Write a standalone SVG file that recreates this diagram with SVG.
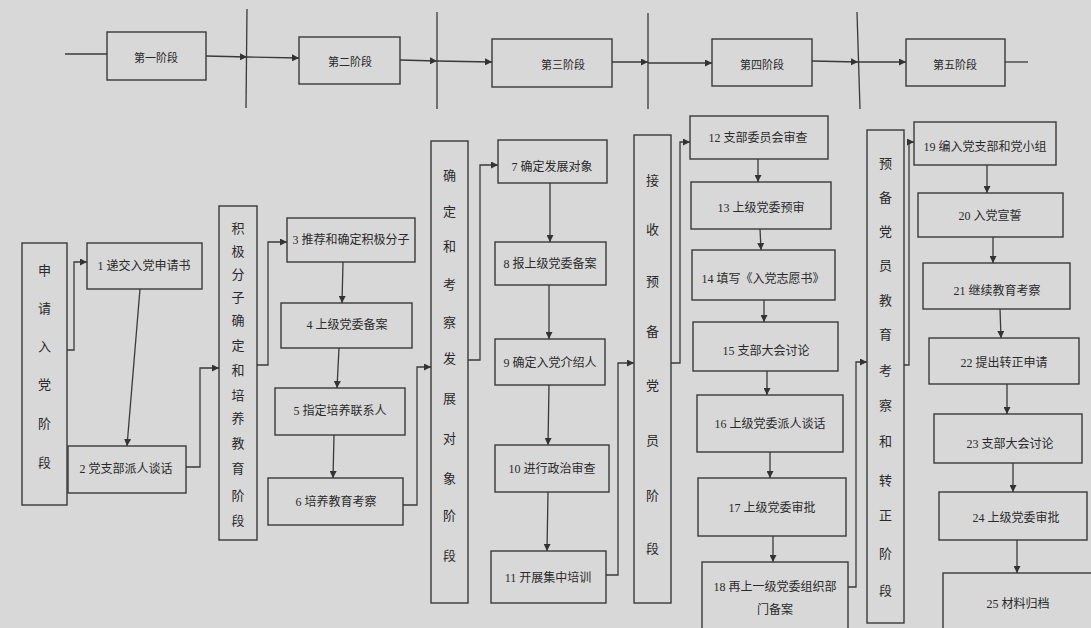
<svg xmlns="http://www.w3.org/2000/svg" width="1091" height="628" viewBox="0 0 1091 628">
<defs>
<marker id="ah" viewBox="0 0 10 10" refX="10" refY="5" markerWidth="7" markerHeight="7" markerUnits="userSpaceOnUse" orient="auto"><path d="M0,0 L10,5 L0,10 z" fill="#333"/></marker>
<style>
.bx{fill:none;stroke:#3a3a3a;stroke-width:1.4}
.ln{fill:none;stroke:#3a3a3a;stroke-width:1.3}
.ar{fill:none;stroke:#3a3a3a;stroke-width:1.3;marker-end:url(#ah)}
.t{font-family:"Liberation Serif","Noto Sans CJK SC",serif;font-size:12px;fill:#2a2a2a;text-anchor:middle;dominant-baseline:central}
.h{font-family:"Liberation Serif","Noto Sans CJK SC",serif;font-size:11px;fill:#2a2a2a;text-anchor:middle;dominant-baseline:central}
.v{font-family:"Liberation Serif","Noto Sans CJK SC",serif;font-size:13px;fill:#2a2a2a;text-anchor:middle;dominant-baseline:central}
</style>
</defs>
<rect width="1091" height="628" fill="#d8d8d8"/>

<g id="header">
<g id="hp1"><rect class="bx" x="107" y="32" width="99" height="48"/><text class="h" x="156" y="58">第一阶段</text></g>
<g id="hp2"><rect class="bx" x="299" y="37" width="101" height="47"/><text class="h" x="350" y="62">第二阶段</text></g>
<g id="hp3"><rect class="bx" x="492" y="39" width="120" height="48"/><text class="h" x="563" y="65">第三阶段</text></g>
<g id="hp4"><rect class="bx" x="712" y="39" width="100" height="47"/><text class="h" x="762" y="65">第四阶段</text></g>
<g id="hp5"><rect class="bx" x="906" y="39" width="99" height="47"/><text class="h" x="955" y="65">第五阶段</text></g>
<g id="dividers">
<line class="ln" x1="247" y1="9" x2="246" y2="108"/>
<line class="ln" x1="437" y1="12" x2="437" y2="109"/>
<line class="ln" x1="648" y1="13" x2="648" y2="109"/>
<line class="ln" x1="857" y1="12" x2="860" y2="109"/>
</g>
</g>

<g id="s1"><rect class="bx" x="22" y="243" width="45" height="262"/>
<text class="v"><tspan x="44.5" y="270">申</tspan><tspan x="44.5" y="308">请</tspan><tspan x="44.5" y="346">入</tspan><tspan x="44.5" y="384">党</tspan><tspan x="44.5" y="423">阶</tspan><tspan x="44.5" y="462">段</tspan></text></g>
<g id="n1"><rect class="bx" x="87" y="243" width="115" height="46"/><text class="t" x="144" y="266">1 递交入党申请书</text></g>
<g id="n2"><rect class="bx" x="68" y="446" width="118" height="47"/><text class="t" x="126" y="469">2 党支部派人谈话</text></g>

<g id="s2"><rect class="bx" x="219" y="206" width="38" height="334"/>
<text class="v"><tspan x="238" y="228">积</tspan><tspan x="238" y="251">极</tspan><tspan x="238" y="274">分</tspan><tspan x="238" y="297">子</tspan><tspan x="238" y="320">确</tspan><tspan x="238" y="345">定</tspan><tspan x="238" y="370">和</tspan><tspan x="238" y="395">培</tspan><tspan x="238" y="418">养</tspan><tspan x="238" y="443">教</tspan><tspan x="238" y="468">育</tspan><tspan x="238" y="495">阶</tspan><tspan x="238" y="520">段</tspan></text></g>
<g id="n3"><rect class="bx" x="287" y="218" width="128" height="44"/><text class="t" x="351" y="240">3 推荐和确定积极分子</text></g>
<g id="n4"><rect class="bx" x="281" y="303" width="131" height="45"/><text class="t" x="347" y="325">4 上级党委备案</text></g>
<g id="n5"><rect class="bx" x="275" y="388" width="130" height="47"/><text class="t" x="340" y="411">5 指定培养联系人</text></g>
<g id="n6"><rect class="bx" x="268" y="478" width="135" height="47"/><text class="t" x="336" y="502">6 培养教育考察</text></g>

<g id="s3"><rect class="bx" x="431" y="141" width="37" height="462"/>
<text class="v"><tspan x="449.5" y="175">确</tspan><tspan x="449.5" y="211">定</tspan><tspan x="449.5" y="246">和</tspan><tspan x="449.5" y="284">考</tspan><tspan x="449.5" y="322">察</tspan><tspan x="449.5" y="358">发</tspan><tspan x="449.5" y="398">展</tspan><tspan x="449.5" y="438">对</tspan><tspan x="449.5" y="478">象</tspan><tspan x="449.5" y="515">阶</tspan><tspan x="449.5" y="555">段</tspan></text></g>
<g id="n7"><rect class="bx" x="498" y="140" width="109" height="43"/><text class="t" x="552" y="167">7 确定发展对象</text></g>
<g id="n8"><rect class="bx" x="495" y="242" width="111" height="43"/><text class="t" x="550" y="264">8 报上级党委备案</text></g>
<g id="n9"><rect class="bx" x="495" y="339" width="110" height="46"/><text class="t" x="550" y="363">9 确定入党介绍人</text></g>
<g id="n10"><rect class="bx" x="495" y="445" width="114" height="47"/><text class="t" x="552" y="469">10 进行政治审查</text></g>
<g id="n11"><rect class="bx" x="491" y="551" width="115" height="52"/><text class="t" x="548" y="578">11 开展集中培训</text></g>

<g id="s4"><rect class="bx" x="634" y="135" width="37" height="468"/>
<text class="v"><tspan x="652.5" y="180">接</tspan><tspan x="652.5" y="229">收</tspan><tspan x="652.5" y="281">预</tspan><tspan x="652.5" y="331">备</tspan><tspan x="652.5" y="385">党</tspan><tspan x="652.5" y="440">员</tspan><tspan x="652.5" y="495">阶</tspan><tspan x="652.5" y="548">段</tspan></text></g>
<g id="n12"><rect class="bx" x="690" y="116" width="138" height="43"/><text class="t" x="758" y="138">12 支部委员会审查</text></g>
<g id="n13"><rect class="bx" x="691" y="182" width="140" height="47"/><text class="t" x="761" y="208">13 上级党委预审</text></g>
<g id="n14"><rect class="bx" x="692" y="250" width="143" height="50"/><text class="t" x="763" y="279">14 填写《入党志愿书》</text></g>
<g id="n15"><rect class="bx" x="693" y="322" width="145" height="49"/><text class="t" x="766" y="351">15 支部大会讨论</text></g>
<g id="n16"><rect class="bx" x="697" y="395" width="146" height="57"/><text class="t" x="770" y="424">16 上级党委派人谈话</text></g>
<g id="n17"><rect class="bx" x="698" y="478" width="148" height="58"/><text class="t" x="772" y="508">17 上级党委审批</text></g>
<g id="n18"><rect class="bx" x="702" y="562" width="146" height="70"/><text class="t" x="775" y="587">18 再上一级党委组织部</text><text class="t" x="775" y="610">门备案</text></g>

<g id="s5"><rect class="bx" x="867" y="130" width="37" height="493"/>
<text class="v"><tspan x="885.5" y="163">预</tspan><tspan x="885.5" y="197">备</tspan><tspan x="885.5" y="231">党</tspan><tspan x="885.5" y="265">员</tspan><tspan x="885.5" y="300">教</tspan><tspan x="885.5" y="334">育</tspan><tspan x="885.5" y="370">考</tspan><tspan x="885.5" y="405">察</tspan><tspan x="885.5" y="441">和</tspan><tspan x="885.5" y="480">转</tspan><tspan x="885.5" y="515">正</tspan><tspan x="885.5" y="553">阶</tspan><tspan x="885.5" y="590">段</tspan></text></g>
<g id="n19"><rect class="bx" x="914" y="122" width="142" height="43"/><text class="t" x="985" y="147">19 编入党支部和党小组</text></g>
<g id="n20"><rect class="bx" x="918" y="193" width="145" height="44"/><text class="t" x="990" y="216">20 入党宣誓</text></g>
<g id="n21"><rect class="bx" x="923" y="263" width="147" height="46"/><text class="t" x="997" y="291">21 继续教育考察</text></g>
<g id="n22"><rect class="bx" x="929" y="338" width="150" height="46"/><text class="t" x="1004" y="363">22 提出转正申请</text></g>
<g id="n23"><rect class="bx" x="934" y="414" width="148" height="49"/><text class="t" x="1010" y="444">23 支部大会讨论</text></g>
<g id="n24"><rect class="bx" x="939" y="492" width="148" height="48"/><text class="t" x="1016" y="518">24 上级党委审批</text></g>
<g id="n25"><rect class="bx" x="943" y="573" width="150" height="60"/><text class="t" x="1018" y="604">25 材料归档</text></g>

<g id="connectors">
<line class="ln" x1="65" y1="54" x2="107" y2="54"/>
<line class="ar" x1="206" y1="56" x2="247" y2="57"/>
<line class="ar" x1="247" y1="57" x2="299" y2="58"/>
<line class="ar" x1="400" y1="60" x2="437" y2="61"/>
<line class="ar" x1="437" y1="61" x2="492" y2="62"/>
<line class="ar" x1="612" y1="62" x2="648" y2="62"/>
<line class="ar" x1="648" y1="63" x2="712" y2="63"/>
<line class="ar" x1="812" y1="61" x2="858" y2="62"/>
<line class="ar" x1="858" y1="62" x2="906" y2="62"/>
<line class="ln" x1="1005" y1="62" x2="1028" y2="62"/>

<polyline class="ar" points="67,350 74,350 74,262 87,262"/>
<line class="ar" x1="140" y1="289" x2="127" y2="446"/>
<polyline class="ar" points="186,467 200,467 200,368 219,368"/>
<polyline class="ar" points="257,365 268,365 268,242 287,242"/>
<line class="ar" x1="343" y1="262" x2="342" y2="303"/>
<line class="ar" x1="339" y1="348" x2="337" y2="388"/>
<line class="ar" x1="334" y1="435" x2="333" y2="478"/>
<polyline class="ar" points="403,505 417,505 417,367 431,367"/>
<polyline class="ar" points="468,360 480,360 480,165 498,165"/>
<line class="ar" x1="550" y1="183" x2="550" y2="242"/>
<line class="ar" x1="549" y1="285" x2="549" y2="339"/>
<line class="ar" x1="549" y1="385" x2="548" y2="445"/>
<line class="ar" x1="548" y1="492" x2="547" y2="551"/>
<polyline class="ar" points="606,575 618,575 618,363 634,363"/>
<polyline class="ar" points="671,363 680,363 680,142 690,142"/>
<line class="ar" x1="758" y1="159" x2="758" y2="182"/>
<line class="ar" x1="760" y1="229" x2="761" y2="250"/>
<line class="ar" x1="764" y1="300" x2="764" y2="322"/>
<line class="ar" x1="767" y1="371" x2="767" y2="395"/>
<line class="ar" x1="770" y1="452" x2="770" y2="478"/>
<line class="ar" x1="773" y1="536" x2="773" y2="562"/>
<polyline class="ar" points="848,587 856,587 856,362 867,362"/>
<polyline class="ar" points="904,365 909,365 909,142 914,142"/>
<line class="ar" x1="987" y1="165" x2="987" y2="193"/>
<line class="ar" x1="993" y1="237" x2="993" y2="263"/>
<line class="ar" x1="1000" y1="309" x2="1001" y2="338"/>
<line class="ar" x1="1007" y1="384" x2="1007" y2="414"/>
<line class="ar" x1="1013" y1="463" x2="1013" y2="492"/>
<line class="ar" x1="1017" y1="540" x2="1017" y2="573"/>
</g>
</svg>
